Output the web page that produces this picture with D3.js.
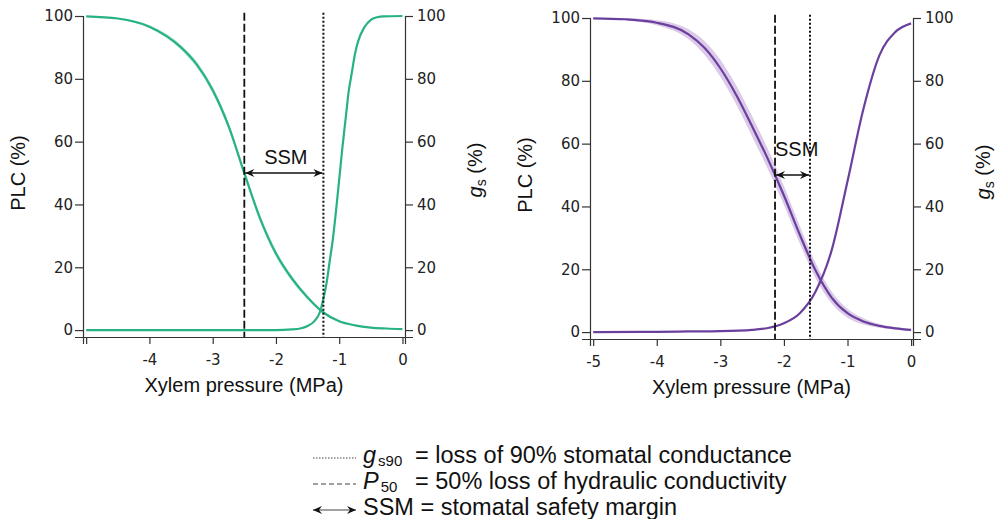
<!DOCTYPE html>
<html>
<head>
<meta charset="utf-8">
<script src="https://cdn.jsdelivr.net/npm/d3@7"></script>
<style>
  body { margin: 0; background: #fff; }
  svg { display: block; }
  .tick text { font-family: "DejaVu Sans", Verdana, sans-serif; font-size: 15px; fill: #222; }
  .tick line, .domain { stroke: #333; stroke-width: 1.2; }
  .title { font-family: "Liberation Sans", Arial, sans-serif; font-size: 20px; fill: #111; }
  .legend { font-family: "Liberation Sans", Arial, sans-serif; font-size: 23.5px; fill: #111; }
</style>
</head>
<body>
<svg id="chart" width="997" height="519"></svg>
<script>
// pressure grid (MPa) used by the PLC curves
var pressure = [-5, -4.5, -4, -3.5, -3.25, -3, -2.75, -2.5, -2.25, -2, -1.75, -1.5, -1.25, -1, -0.75, -0.5, -0.25, 0];

// left panel (green)
var plcLeft = [99.9, 99.2, 96.6, 90, 84.5, 76.4, 65, 50, 35.5, 24.4, 16.5, 10.4, 5.6, 2.8, 1.5, 0.8, 0.5, 0.3];
var plcSpreadLeft = [0, 0.2, 0.5, 0.8, 1, 1.1, 1.2, 1.2, 1.2, 1.1, 0.9, 0.7, 0.5, 0.3, 0.2, 0.1, 0.1, 0];
var gsPressureLeft = [-5, -2, -1.75, -1.6, -1.5, -1.4, -1.3, -1.25, -1.2, -1.15, -1.1, -1.05, -1, -0.95, -0.9, -0.85, -0.8, -0.75, -0.7, -0.6, -0.5, -0.4, -0.3, 0];
var gsLeft = [0, 0, 0.2, 0.6, 1.3, 2.7, 6, 10, 15, 22, 29, 38, 48, 58, 67, 76, 82, 88, 92, 96.5, 98.8, 99.6, 99.9, 100];
var p50Left = -2.5, gs90Left = -1.25;

// right panel (purple)
var plcRight = [99.9, 99.6, 98.5, 94.8, 90.5, 84, 75.5, 65.5, 55, 43.5, 31, 19.5, 11, 6, 3.4, 2, 1.2, 0.7];
var plcSpreadRight = [0, 0.3, 0.8, 1.6, 2.2, 2.7, 3, 3.2, 3.2, 3, 2.8, 2.4, 1.9, 1.4, 1, 0.6, 0.4, 0.3];
var gsPressureRight = [-5, -4, -3.5, -3, -2.5, -2.25, -2, -1.75, -1.5, -1.25, -1, -0.75, -0.5, -0.25, 0];
var gsRight = [0, 0.1, 0.2, 0.3, 0.7, 1.3, 2.8, 6, 13, 26, 48, 71, 88, 95.5, 98.3];
var p50Right = -2.14, gs90Right = -1.59;

// axis ticks
var xTicks = [-5, -4, -3, -2, -1, 0];
var xTickLabelsLeft = ["", "-4", "-3", "-2", "-1", "0"];
var xTickLabelsRight = ["-5", "-4", "-3", "-2", "-1", "0"];
var yTicks = [0, 20, 40, 60, 80, 100];

var svg = d3.select("#chart");

var defs = svg.append("defs");
defs.append("marker")
    .attr("id", "arrow")
    .attr("viewBox", "-10 -5 10 10")
    .attr("refX", 0).attr("refY", 0)
    .attr("markerWidth", 10).attr("markerHeight", 10)
    .attr("markerUnits", "userSpaceOnUse")
    .attr("orient", "auto-start-reverse")
    .append("path")
    .attr("d", "M0,0L-9,-4L-6,0L-9,4Z")
    .attr("fill", "#111");

function panel(opt) {
    var x = d3.scaleLinear().domain([-5.05, opt.xMax]).range(opt.xRange);
    var y = d3.scaleLinear().domain([-2.2, 100]).range(opt.yRange);
    var g = svg.append("g");
    var bottom = opt.yRange[0];

    // axes
    g.append("g")
        .attr("transform", "translate(0," + bottom + ")")
        .call(d3.axisBottom(x).tickValues(xTicks).tickSizeOuter(0).tickSize(7).tickPadding(10)
            .tickFormat(function (d, i) { return opt.xLabels[i]; }));
    g.append("g")
        .attr("transform", "translate(" + opt.xRange[0] + ",0)")
        .call(d3.axisLeft(y).tickValues(yTicks).tickSizeOuter(0).tickSize(8).tickPadding(2));
    g.append("g")
        .attr("transform", "translate(" + opt.xRange[1] + ",0)")
        .call(d3.axisRight(y).tickValues(yTicks).tickSizeOuter(0).tickSize(8).tickPadding(4));

    // PLC confidence band
    var band = d3.area()
        .x(function (d, i) { return x(pressure[i]); })
        .y0(function (d, i) { return y(Math.max(0, d - opt.spread[i])); })
        .y1(function (d, i) { return y(Math.min(100, d + opt.spread[i])); })
        .curve(d3.curveMonotoneX);
    g.append("path").datum(opt.plc).attr("d", band).attr("fill", opt.bandColor);

    var line = d3.line().curve(d3.curveMonotoneX);
    g.append("path")
        .datum(opt.plc.map(function (v, i) { return [x(pressure[i]), y(v)]; }))
        .attr("d", line).attr("fill", "none").attr("stroke", opt.color).attr("stroke-width", 2.2);
    g.append("path")
        .datum(opt.gs.map(function (v, i) { return [x(opt.gsX[i]), y(v)]; }))
        .attr("d", line).attr("fill", "none").attr("stroke", opt.color).attr("stroke-width", 2.2);

    // P50 and gs90 markers
    g.append("line")
        .attr("x1", x(opt.p50)).attr("x2", x(opt.p50))
        .attr("y1", y(101)).attr("y2", bottom)
        .attr("stroke", "#111").attr("stroke-width", 1.8).attr("stroke-dasharray", "8,3");
    g.append("line")
        .attr("x1", x(opt.gs90)).attr("x2", x(opt.gs90))
        .attr("y1", y(101)).attr("y2", bottom)
        .attr("stroke", "#111").attr("stroke-width", 2).attr("stroke-dasharray", "2,2");

    // safety margin arrow
    g.append("line")
        .attr("x1", x(opt.p50) + 1).attr("x2", x(opt.gs90) - 1)
        .attr("y1", y(50)).attr("y2", y(50))
        .attr("stroke", "#111").attr("stroke-width", 1.4)
        .attr("marker-start", "url(#arrow)").attr("marker-end", "url(#arrow)");
    g.append("text").attr("class", "title")
        .attr("x", opt.ssmAnchor === "middle" ? x((opt.p50 + opt.gs90) / 2) + 2 : x(opt.p50))
        .attr("y", opt.ssmY)
        .attr("text-anchor", opt.ssmAnchor)
        .text("SSM");

    // titles
    g.append("text").attr("class", "title")
        .attr("x", (opt.xRange[0] + opt.xRange[1]) / 2)
        .attr("y", bottom + 55)
        .attr("text-anchor", "middle")
        .text("Xylem pressure (MPa)");
    g.append("text").attr("class", "title")
        .attr("transform", "translate(" + opt.plcTitleX + "," + y(50) + ") rotate(-90)")
        .attr("text-anchor", "middle")
        .text("PLC (%)");
    var gt = g.append("text").attr("class", "title")
        .attr("transform", "translate(" + (opt.xRange[1] + 77) + "," + (y(50) - 3) + ") rotate(-90)")
        .attr("text-anchor", "middle");
    gt.append("tspan").attr("font-style", "italic").text("g");
    gt.append("tspan").attr("font-size", "14px").attr("dy", 4).text("s");
    gt.append("tspan").attr("dy", -4).text(" (%)");
}

panel({
    xRange: [83, 405], yRange: [337, 16], xMax: 0.04,
    xLabels: xTickLabelsLeft,
    plc: plcLeft, spread: plcSpreadLeft, gsX: gsPressureLeft, gs: gsLeft,
    p50: p50Left, gs90: gs90Left,
    color: "#27b286", bandColor: "#c9ecdf",
    ssmAnchor: "middle", ssmY: 164,
    plcTitleX: 25
});

panel({
    xRange: [590, 913], yRange: [339, 18], xMax: 0.03,
    xLabels: xTickLabelsRight,
    plc: plcRight, spread: plcSpreadRight, gsX: gsPressureRight, gs: gsRight,
    p50: p50Right, gs90: gs90Right,
    color: "#6a3f9e", bandColor: "#dccbe8",
    ssmAnchor: "start", ssmY: 156,
    plcTitleX: 532
});

// legend
var legendRows = [
    { y: 463, dash: "1.5,1.5", sym: "g", sub: "s90", text: "= loss of 90% stomatal conductance" },
    { y: 489, dash: "5,3", sym: "P", sub: "50", text: "= 50% loss of hydraulic conductivity" },
    { y: 515, dash: null, sym: null, sub: null, text: "SSM = stomatal safety margin" }
];
var leg = svg.append("g");
legendRows.forEach(function (r) {
    var ly = r.y - 5;
    var l = leg.append("line")
        .attr("x1", 313).attr("x2", 356).attr("y1", ly).attr("y2", ly)
        .attr("stroke", "#444").attr("stroke-width", 1.2);
    if (r.dash) l.attr("stroke-dasharray", r.dash);
    else l.attr("marker-start", "url(#arrow)").attr("marker-end", "url(#arrow)");
    if (r.sym) {
        var t = leg.append("text").attr("class", "legend").attr("x", 363).attr("y", r.y);
        t.append("tspan").attr("font-style", "italic").text(r.sym);
        t.append("tspan").attr("font-size", "15px").attr("dy", 3).attr("dx", 2).text(r.sub);
        leg.append("text").attr("class", "legend").attr("x", 415).attr("y", r.y).text(r.text);
    } else {
        leg.append("text").attr("class", "legend").attr("x", 363).attr("y", r.y).text(r.text);
    }
});
</script>
</body>
</html>
